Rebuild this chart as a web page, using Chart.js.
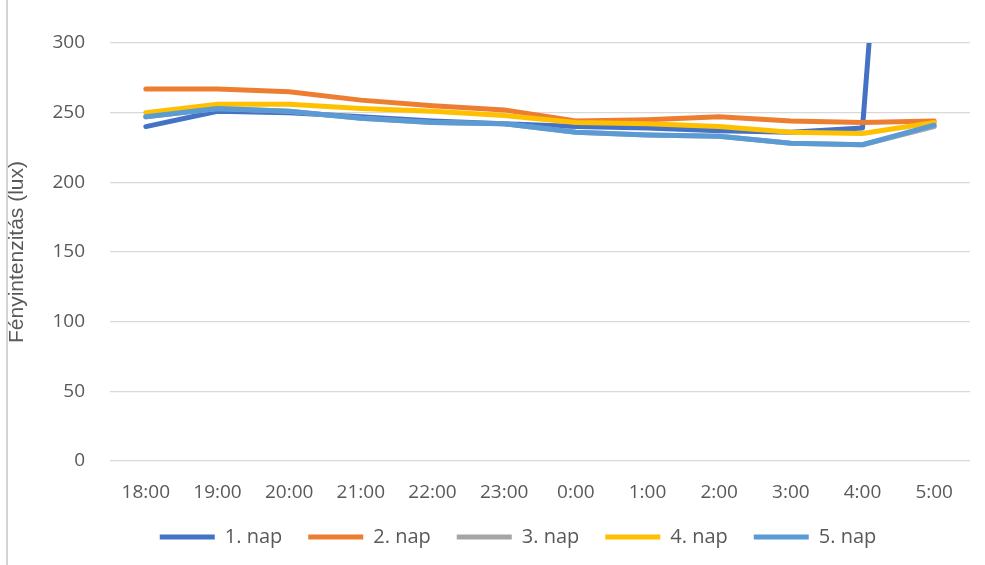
<!DOCTYPE html>
<html>
<head>
<meta charset="utf-8">
<script src="https://cdn.jsdelivr.net/npm/chart.js@4.4.1/dist/chart.umd.min.js"></script>
<style>
  html, body { margin: 0; padding: 0; background: #ffffff; }
  #wrap { position: relative; width: 985px; height: 565px; overflow: hidden; }
  #edge { position: absolute; left: 6px; top: 0; width: 2px; height: 565px; background: #d4d4d4; }
  canvas { position: absolute; left: 0; top: 0; }
</style>
</head>
<body>
<div id="wrap">
  <canvas id="chart" width="985" height="565"></canvas>
  <div id="edge"></div>
</div>
<script>
// Hourly light intensity readings (lux), evening to early morning
const hours = ['18:00', '19:00', '20:00', '21:00', '22:00', '23:00', '0:00', '1:00', '2:00', '3:00', '4:00', '5:00'];
const seriesNames = ['1. nap', '2. nap', '3. nap', '4. nap', '5. nap'];
const day1 = [240, 251, 250, 247, 244, 242, 240, 239, 237, 236, 239, 905];
const day2 = [267, 267, 265, 259, 255, 252, 244, 245, 247, 244, 243, 244];
const day3 = [247, 253, 251, 246, 243, 242, 236, 234, 233, 228, 227, 240];
const day4 = [250, 256, 256, 253, 251, 248, 243, 242, 240, 236, 235, 243];
const day5 = [247, 253, 251, 246, 243, 242, 236, 234, 233, 228, 227, 241];
const yTicks = [0, 50, 100, 150, 200, 250, 300];
const seriesColors = ['#4472C4', '#ED7D31', '#A5A5A5', '#FFC000', '#5B9BD5'];

const seriesValues = [day1, day2, day3, day4, day5];
const tickColor = '#595959';
const tickFont = { family: '"Open Sans", sans-serif', size: 19 };
const LEGEND_PAD_BOTTOM = 8;
const LEGEND_SHIFT_X = 33;

// nudges the legend row sideways so it sits under the plot
const legendShift = {
  id: 'legendShift',
  afterLayout(chart) {
    const lg = chart.legend;
    if (lg) { lg.left += LEGEND_SHIFT_X; lg.right += LEGEND_SHIFT_X; }
  }
};

const datasets = seriesValues.map((vals, i) => ({
  label: seriesNames[i],
  data: vals,
  borderColor: seriesColors[i],
  backgroundColor: seriesColors[i],
  borderWidth: 5,
  pointRadius: 0,
  pointHoverRadius: 0,
  tension: 0,
  borderCapStyle: 'round',
  borderJoinStyle: 'round',
  fill: false,
  // later days are painted over earlier ones
  order: seriesValues.length - 1 - i
}));

new Chart(document.getElementById('chart'), {
  type: 'line',
  data: { labels: hours, datasets },
  plugins: [legendShift],
  options: {
    responsive: false,
    animation: false,
    events: [],
    layout: { padding: { top: 43, right: 15, left: 0, bottom: LEGEND_PAD_BOTTOM } },
    plugins: {
      tooltip: { enabled: false },
      legend: {
        position: 'bottom',
        labels: {
          color: tickColor,
          font: { family: '"Open Sans", sans-serif', size: 20 },
          boxWidth: 55,
          boxHeight: 5,
          padding: 26,
          sort: (a, b) => a.datasetIndex - b.datasetIndex,
          generateLabels: (chart) => chart.data.datasets.map((ds, i) => ({
            text: ds.label,
            fillStyle: ds.borderColor,
            strokeStyle: ds.borderColor,
            lineWidth: 0,
            fontColor: tickColor,
            hidden: false,
            datasetIndex: i
          }))
        }
      }
    },
    scales: {
      x: {
        offset: true,
        grid: { display: false, drawTicks: false },
        border: { display: false },
        ticks: { color: tickColor, font: tickFont, padding: 20, maxRotation: 0, autoSkip: false },
        afterFit: (s) => {
          const lg = s.chart.legend ? s.chart.legend.height : 0;
          s.height = 565 - LEGEND_PAD_BOTTOM - lg - 461;
        }
      },
      y: {
        min: yTicks[0],
        max: yTicks[yTicks.length - 1],
        grid: { color: '#d9d9d9', lineWidth: 1.3, drawTicks: false },
        border: { display: false },
        afterBuildTicks: (s) => { s.ticks = yTicks.map(v => ({ value: v })); },
        ticks: { color: tickColor, font: tickFont, padding: 25 },
        title: {
          display: true,
          text: 'Fényintenzitás (lux)',
          color: tickColor,
          font: { family: '"Liberation Sans Narrow", "Liberation Sans", sans-serif', size: 21 },
          padding: { top: 5, bottom: 0 }
        },
        afterFit: (s) => { s.width = 110; }
      }
    }
  }
});
</script>
</body>
</html>
